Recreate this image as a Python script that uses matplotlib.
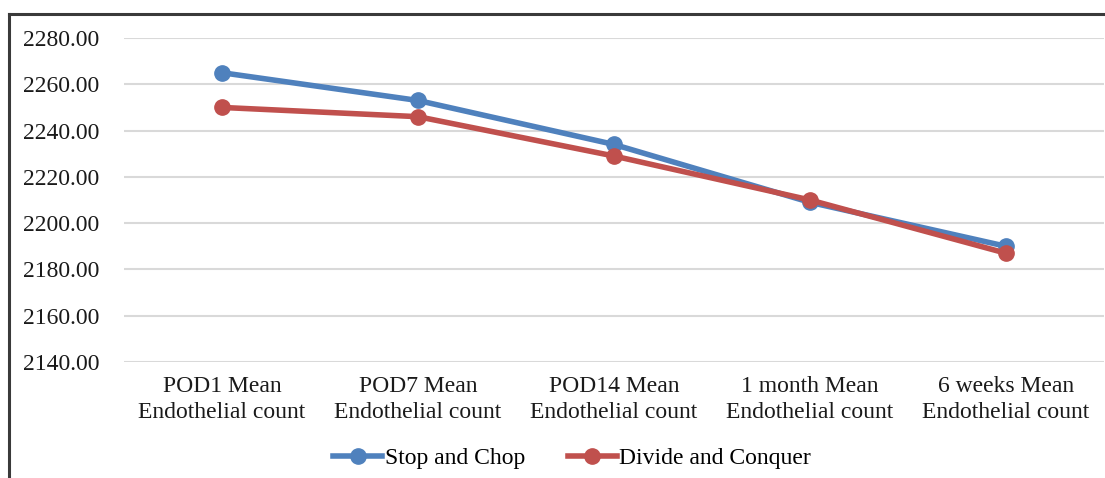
import matplotlib.pyplot as plt
import matplotlib
from matplotlib.lines import Line2D

matplotlib.rcParams['font.family'] = ['Liberation Serif', 'DejaVu Serif']

# データ
categories = ['POD1 Mean\nEndothelial count', 'POD7 Mean\nEndothelial count',
              'POD14 Mean\nEndothelial count', '1 month Mean\nEndothelial count',
              '6 weeks Mean\nEndothelial count']
stop_and_chop = [2265, 2253, 2234, 2209, 2190]
divide_and_conquer = [2250, 2246, 2229, 2210, 2187]
y_ticks = [2140, 2160, 2180, 2200, 2220, 2240, 2260, 2280]

fig = plt.figure(figsize=(11.05, 4.78), dpi=100)
ax = fig.add_axes([124 / 1105, 1 - 362 / 478, 980 / 1105, 324 / 478])

x = range(len(categories))
ax.plot(x, stop_and_chop, color='#4f81bd', linewidth=4, marker='o', markersize=11,
        label='Stop and Chop', clip_on=False, zorder=3)
ax.plot(x, divide_and_conquer, color='#c0504d', linewidth=4, marker='o', markersize=11,
        label='Divide and Conquer', clip_on=False, zorder=4)

ax.set_xlim(-0.5, len(categories) - 0.5)
ax.set_ylim(2140, 2280)
ax.set_yticks(y_ticks)
ax.set_yticklabels([f'{v:.2f}' for v in y_ticks], fontsize=17)
ax.set_xticks(list(x))
ax.set_xticklabels(categories, fontsize=17, linespacing=1.3)
ax.tick_params(axis='both', length=0, colors='#1a1a1a')
ax.tick_params(axis='y', pad=18)
ax.tick_params(axis='x', pad=10)
ax.grid(axis='y', color='#d9d9d9', linewidth=1.5)
ax.set_axisbelow(True)
for s in ax.spines.values():
    s.set_visible(False)

fig.legend(loc='center', bbox_to_anchor=(572 / 1105, 1 - 458 / 478), ncol=2,
           frameon=False, fontsize=17, handlelength=2.1, handletextpad=0.1,
           columnspacing=1.8)

# 外枠（左と上だけ見えている）
bx, by = 9 / 1105, 1 - 14 / 478
fig.add_artist(Line2D([bx, bx], [0, by], transform=fig.transFigure,
                      color='#3a3a3a', linewidth=2.2, solid_capstyle='projecting'))
fig.add_artist(Line2D([bx, 1], [by, by], transform=fig.transFigure,
                      color='#3a3a3a', linewidth=2.2, solid_capstyle='projecting'))

plt.savefig('out.png', dpi=100)
